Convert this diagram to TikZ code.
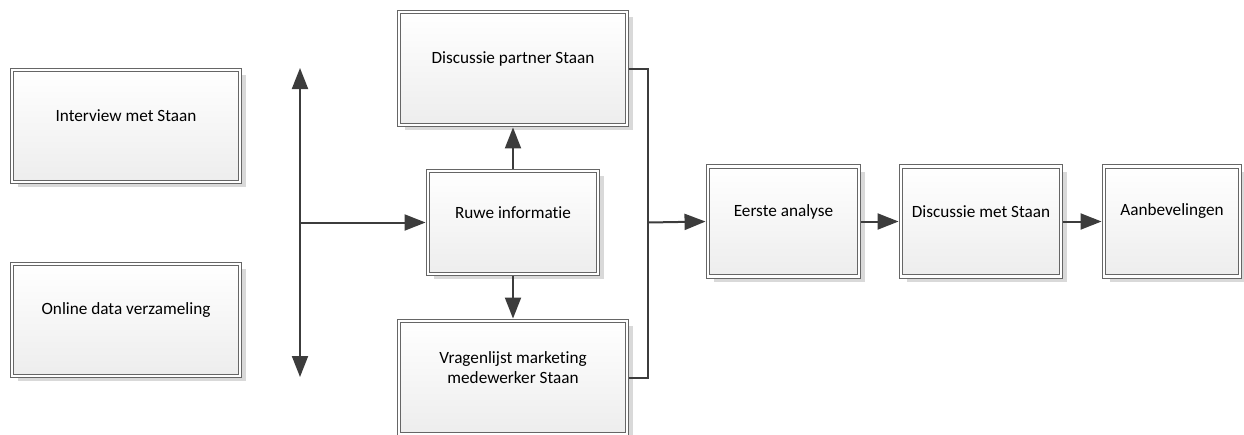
\documentclass[tikz,border=0pt]{standalone}
\usepackage{fontspec}
\setmainfont{Carlito}[RawFeature=-liga]
\usetikzlibrary{arrows.meta,shadows}
\definecolor{linegray}{HTML}{3C3C3C}
\definecolor{framegray}{HTML}{666666}
\definecolor{shadegray}{HTML}{EDEDED}
\definecolor{shadowgray}{HTML}{D9D9D9}
\tikzset{
  box/.style={draw=framegray, line width=0.9pt, double=white, double distance=2.4pt,
    top color=white, bottom color=shadegray, inner sep=0pt,
    drop shadow={shadow xshift=6pt, shadow yshift=-5pt, fill=shadowgray, opacity=1}},
  boxtext/.style={font=\fontsize{17.2}{20.5}\selectfont, align=center, yshift=10pt, text=black},
  conn/.style={draw=linegray, line width=2pt},
  tip/.style={-{Triangle[length=21pt,width=16pt]}, shorten >=2pt},
}
\begin{document}
\begin{tikzpicture}[x=1pt,y=-1pt]
\useasboundingbox (0,0) rectangle (1244,434);

% input sources on the left
\node[box, minimum width=228, minimum height=112,
  label={[boxtext]center:Interview met Staan}] (interview) at (126,126) {};
\node[box, minimum width=228, minimum height=112,
  label={[boxtext]center:Online data verzameling}] (online) at (126,320) {};

% middle column
\node[box, minimum width=228, minimum height=113,
  label={[boxtext]center:Discussie partner Staan}] (partner) at (513,68.5) {};
\node[box, minimum width=170, minimum height=103,
  label={[boxtext]center:Ruwe informatie}] (ruwe) at (513,222.5) {};
\node[box, minimum width=228, minimum height=113,
  label={[boxtext]center:Vragenlijst marketing\\medewerker Staan}] (vragen) at (513,377.5) {};

% main flow to the right
\node[box, minimum width=151, minimum height=110,
  label={[boxtext]center:Eerste analyse}] (eerste) at (783.5,221.5) {};
\node[box, minimum width=160, minimum height=110,
  label={[boxtext]center:Discussie met Staan}] (dmet) at (981,221.5) {};
\node[box, minimum width=136, minimum height=110,
  label={[boxtext]center:Aanbevelingen}] (aanb) at (1172,221.5) {};

% double-headed bar and its branch into the raw information
\coordinate (bartop) at (300,68);
\coordinate (barbot) at (300,377);
\coordinate (split) at (300,222.5);
\draw[conn, {Triangle[length=21pt,width=16pt]}-{Triangle[length=21pt,width=16pt]}] (barbot) -- (bartop);
\draw[conn, tip] (split) -- (ruwe.west);

% raw information feeds the two activities
\draw[conn, tip, shorten <=2pt] (ruwe.north) -- (partner.south);
\draw[conn, tip, shorten <=2pt] (ruwe.south) -- (vragen.north);

% bracket collecting both activities
\coordinate (merge) at (648,222.5);
\draw[conn, shorten <=2pt, shorten >=2pt] (partner.east) -- (merge |- partner.east) -- (merge |- vragen.east) -- (vragen.east);
\draw[conn, tip] (merge) -- (eerste.west);

% sequence to the recommendations
\draw[conn, tip, shorten <=2pt] (eerste.east) -- (dmet.west);
\draw[conn, tip, shorten <=2pt] (dmet.east) -- (aanb.west);
\end{tikzpicture}
\end{document}
